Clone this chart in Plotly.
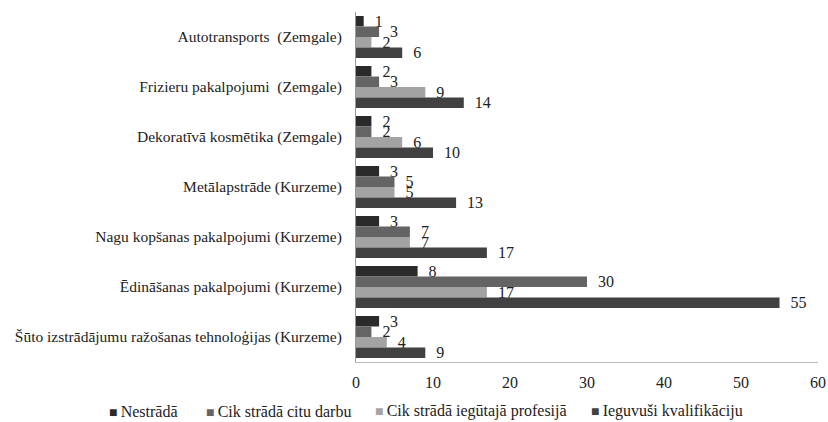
import plotly.graph_objects as go

categories = [
    "Autotransports  (Zemgale)",
    "Frizieru pakalpojumi  (Zemgale)",
    "Dekoratīvā kosmētika (Zemgale)",
    "Metālapstrāde (Kurzeme)",
    "Nagu kopšanas pakalpojumi (Kurzeme)",
    "Ēdināšanas pakalpojumi (Kurzeme)",
    "Šūto izstrādājumu ražošanas tehnoloģijas (Kurzeme)",
]
series_names = ["Nestrādā", "Cik strādā citu darbu", "Cik strādā iegūtajā profesijā", "Ieguvuši kvalifikāciju"]
nestrada = [1, 2, 2, 3, 3, 8, 3]
citu_darbu = [3, 3, 2, 5, 7, 30, 2]
ieguta_profesija = [2, 9, 6, 5, 7, 17, 4]
ieguvusi = [6, 14, 10, 13, 17, 55, 9]
x_ticks = [0, 10, 20, 30, 40, 50, 60]

colors = ["#2a2a2a", "#646464", "#a3a3a3", "#414141"]
values = [nestrada, citu_darbu, ieguta_profesija, ieguvusi]

font = "Liberation Serif"
W, H = 828, 422
L, R, T, B = 356, 10, 12, 60
plot_w = W - L - R
plot_h = H - T - B

fig = go.Figure()
for name, vals, col in zip(series_names, values, colors):
    fig.add_trace(go.Bar(
        y=categories, x=vals, name=name, orientation="h",
        marker=dict(color=col, line=dict(width=0)),
        text=[str(v) for v in vals], textposition="outside",
        texttemplate="\u2002%{text}",
        constraintext="none",
        textfont=dict(family=font, size=16, color="#222"),
        cliponaxis=False, showlegend=False,
    ))

# legend drawn as text entries, placed like the original (pixel positions)
legend_x_px = [107, 204, 373, 589]
for name, col, px in zip(series_names, colors, legend_x_px):
    fig.add_annotation(
        xref="paper", yref="paper",
        x=(px - L) / plot_w, y=-(411 - (T + plot_h)) / plot_h,
        xanchor="left", yanchor="middle", showarrow=False,
        text=f"<span style='color:{col};font-size:14px'>■</span>\u2009{name}",
        font=dict(family=font, size=16, color="#222"),
    )

fig.update_layout(
    width=W, height=H,
    barmode="group", bargap=0.16, bargroupgap=0,
    plot_bgcolor="white", paper_bgcolor="white",
    margin=dict(l=L, r=R, t=T, b=B, autoexpand=False),
    font=dict(family=font, size=16, color="#222"),
    showlegend=False,
)
fig.update_xaxes(range=[0, 60], tickvals=x_ticks, showgrid=False, zeroline=False,
                 showline=True, linecolor="#bbbbbb", linewidth=1, ticks="",
                 ticklabelstandoff=6, automargin=False,
                 tickfont=dict(family=font, size=16, color="#222"))
fig.update_yaxes(autorange="reversed", showgrid=False, showline=True,
                 linecolor="#999999", linewidth=1, ticks="",
                 ticklabelstandoff=10, automargin=False,
                 tickfont=dict(family=font, size=15.5, color="#222"))

fig.write_html("out.html", config={"displayModeBar": False},
               post_script="document.body.style.margin='0';document.body.style.overflow='hidden';")
